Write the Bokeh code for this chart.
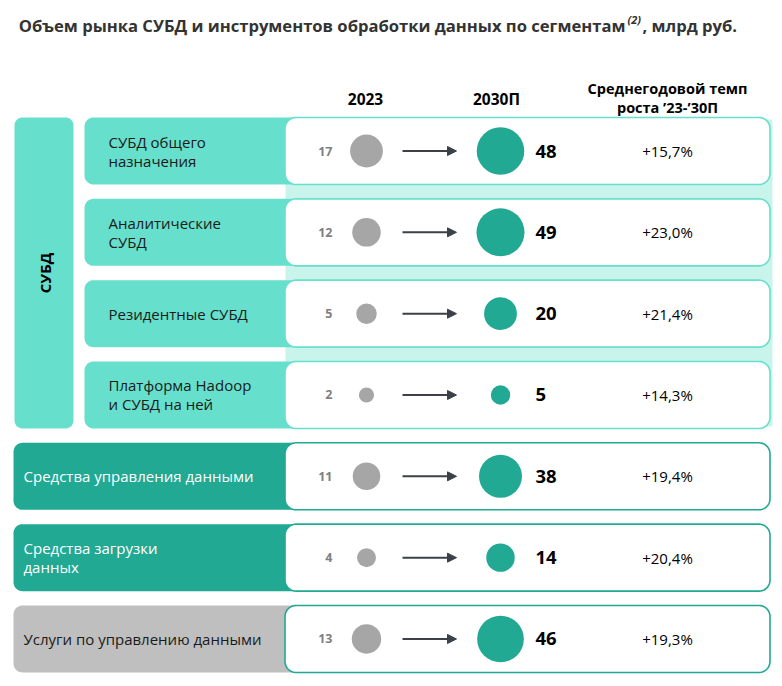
import math
from bokeh.plotting import figure
from bokeh.models import Range1d, Arrow, NormalHead, ColumnDataSource
from bokeh.core.properties import value
from bokeh.embed import file_html
from bokeh.resources import INLINE

# ---------------- data ----------------
title_main = "Объем рынка СУБД и инструментов обработки данных по сегментам"
title_note = "(2)"
title_tail = ", млрд руб."

headers = ["2023", "2030П", "Среднегодовой темп\nроста ’23-’30П"]

group_label = "СУБД"
segments = [
    "СУБД общего\nназначения",
    "Аналитические\nСУБД",
    "Резидентные СУБД",
    "Платформа Hadoop\nи СУБД на ней",
    "Средства управления данными",
    "Средства загрузки\nданных",
    "Услуги по управлению данными",
]
in_group = [True, True, True, True, False, False, False]
values_2023 = [17, 12, 5, 2, 11, 4, 13]
values_2030 = [48, 49, 20, 5, 38, 14, 46]
cagr = ["+15,7%", "+23,0%", "+21,4%", "+14,3%", "+19,4%", "+20,4%", "+19,3%"]

# ---------------- styles / layout ----------------
FONT = value("Open Sans")
TURQ = "#66E0CC"
MINT = "#C8F4EC"
TEAL = "#21A994"
GRAYBOX = "#BFBFBF"
GRAYDOT = "#A6A6A6"
ARROW = "#3B4049"

W, H = 778, 682
p = figure(width=W, height=H, x_range=Range1d(0, W), y_range=Range1d(H, 0),
           output_backend="svg", toolbar_location=None, min_border=0)
p.axis.visible = False
p.grid.visible = False
p.outline_line_color = None
p.background_fill_color = "white"
p.border_fill_color = "white"

ROW0, STEP, HALF = 150.5, 81.33, 33.5
n = len(segments)
row_y = [ROW0 + i * STEP for i in range(n)]


def rrect(x0, x1, y0, y1, r, k=10):
    xs, ys = [], []
    corners = [(x1 - r, y0 + r, -90, 0), (x1 - r, y1 - r, 0, 90),
               (x0 + r, y1 - r, 90, 180), (x0 + r, y0 + r, 180, 270)]
    for cx, cy, a0, a1 in corners:
        for j in range(k + 1):
            a = math.radians(a0 + (a1 - a0) * j / k)
            xs.append(cx + r * math.cos(a))
            ys.append(cy + r * math.sin(a))
    return xs, ys


# group box (СУБД)
g_idx = [i for i in range(n) if in_group[i]]
gx, gy = rrect(14, 73, row_y[g_idx[0]] - HALF, row_y[g_idx[-1]] + HALF, 8)
p.patch(gx, gy, fill_color=TURQ, line_color=None)
p.text([44], [(row_y[g_idx[0]] + row_y[g_idx[-1]]) / 2], text=[group_label], angle=math.pi / 2,
       text_align="center", text_baseline="middle", text_font=FONT, text_font_style="bold",
       text_font_size="15px", text_color="black")

# mint band behind group rows
bx, by = rrect(285, 772, row_y[g_idx[0]] - HALF + 2, row_y[g_idx[-1]] + HALF - 2, 2)
p.patch(bx, by, fill_color=MINT, line_color=None)

# label boxes
other_cols = [TEAL, TEAL, GRAYBOX]
k_other = 0
lab_xs, lab_ys, lab_fill = [], [], []
for i in range(n):
    if in_group[i]:
        x0, col = 84, TURQ
    else:
        x0, col = 13, other_cols[k_other]
        k_other += 1
    xs, ys = rrect(x0, 300, row_y[i] - HALF, row_y[i] + HALF, 9)
    lab_xs.append(xs); lab_ys.append(ys); lab_fill.append(col)
p.patches(lab_xs, lab_ys, fill_color=lab_fill, line_color=None)

# white value boxes
wx, wy, wl = [], [], []
for i in range(n):
    xs, ys = rrect(284.5, 769.5, row_y[i] - HALF, row_y[i] + HALF, 11)
    wx.append(xs); wy.append(ys); wl.append(TURQ if in_group[i] else TEAL)
p.patches(wx, wy, fill_color="white", line_color=wl, line_width=1.6)

# segment labels
t_x, t_y, t_txt, t_col = [], [], [], []
k_other = 0
for i in range(n):
    lines = segments[i].split("\n")
    if in_group[i]:
        x0, col = 108, "#1A1A1A"
    else:
        x0, col = 23, ["white", "white", "#1A1A1A"][k_other]
        k_other += 1
    for j, ln in enumerate(lines):
        t_x.append(x0)
        t_y.append(row_y[i] + (j - (len(lines) - 1) / 2) * 19)
        t_txt.append(ln)
        t_col.append(col)
p.text(t_x, t_y, text=t_txt, text_color=t_col, text_font=FONT, text_font_size="15px",
       text_align="left", text_baseline="middle")

# circles
def diam_2023(v):
    return 6 + 6.5 * math.sqrt(v)


def diam_2030(v):
    return 6 + 6 * math.sqrt(v)


p.scatter([366] * n, row_y, size=[diam_2023(v) for v in values_2023], fill_color=GRAYDOT,
          line_color=None, marker="circle")
p.scatter([500] * n, row_y, size=[diam_2030(v) for v in values_2030], fill_color=TEAL,
          line_color=None, marker="circle")

# arrows
asrc = ColumnDataSource(dict(x0=[402] * n, x1=[456] * n, y=row_y))
p.add_layout(Arrow(x_start="x0", y_start="y", x_end="x1", y_end="y", source=asrc,
                   line_color=ARROW, line_width=2,
                   end=NormalHead(size=9, fill_color=ARROW, line_color=ARROW, line_width=1)))

# values
p.text([332] * n, row_y, text=[str(v) for v in values_2023], text_align="right",
       text_baseline="middle", text_font=FONT, text_font_style="bold", text_font_size="12.5px",
       text_color="#7F7F7F")
p.text([535] * n, row_y, text=[str(v) for v in values_2030], text_align="left",
       text_baseline="middle", text_font=FONT, text_font_style="bold", text_font_size="18.5px",
       text_color="black")
p.text([667] * n, row_y, text=cagr, text_align="center", text_baseline="middle",
       text_font=FONT, text_font_size="15px", text_color="black")

# headers
hl = headers[2].split("\n")
p.text([365, 496], [98, 98], text=[headers[0], headers[1]],
       text_align="center", text_baseline="middle", text_font=FONT, text_font_style="bold",
       text_font_size="15.5px", text_color="black")
p.text([667, 667], [88, 107], text=[hl[0], hl[1]],
       text_align="center", text_baseline="middle", text_font=FONT, text_font_style="bold",
       text_font_size="14.5px", text_color="black")

# title
p.text([625], [25], text=[title_main], text_align="right", text_baseline="middle",
       text_font=FONT, text_font_style="bold", text_font_size="16.6px", text_color="#333333")
p.text([627], [19], text=[title_note], text_align="left", text_baseline="middle",
       text_font=FONT, text_font_style="bold italic", text_font_size="11px", text_color="#333333")
p.text([642], [25], text=[title_tail], text_align="left", text_baseline="middle",
       text_font=FONT, text_font_style="bold", text_font_size="16.6px", text_color="#333333")

open("out.html", "w").write(file_html(p, INLINE))
